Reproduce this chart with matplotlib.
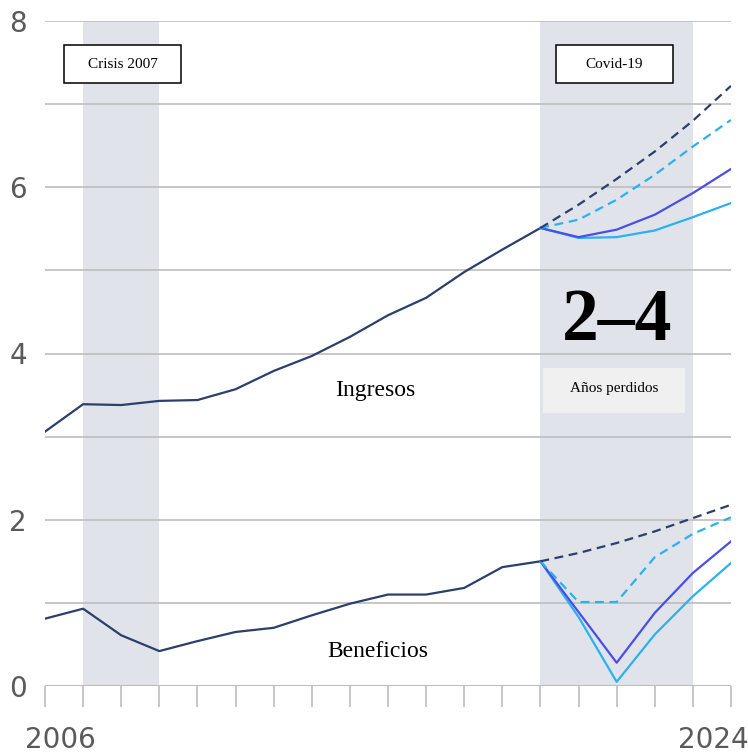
import numpy as np
import matplotlib.pyplot as plt
from matplotlib.patches import Rectangle

years_hist = np.arange(2006, 2020)
years_proj = np.arange(2019, 2025)

ingresos = [3.06, 3.39, 3.38, 3.43, 3.44, 3.57, 3.79, 3.97, 4.20, 4.46, 4.67, 4.98, 5.25, 5.51]
beneficios = [0.81, 0.93, 0.61, 0.42, 0.54, 0.65, 0.70, 0.85, 0.99, 1.10, 1.10, 1.18, 1.43, 1.50]

# Covid-19 scenarios, 2019-2024
ing_trend = [5.51, 5.79, 6.10, 6.43, 6.80, 7.22]
ing_fast = [5.51, 5.61, 5.85, 6.15, 6.49, 6.81]
ing_mid = [5.51, 5.40, 5.49, 5.67, 5.93, 6.22]
ing_slow = [5.51, 5.39, 5.40, 5.48, 5.64, 5.81]

ben_trend = [1.50, 1.60, 1.72, 1.86, 2.02, 2.18]
ben_fast = [1.50, 1.01, 1.01, 1.55, 1.83, 2.03]
ben_mid = [1.50, 0.89, 0.28, 0.88, 1.36, 1.74]
ben_slow = [1.50, 0.83, 0.05, 0.62, 1.08, 1.48]

crisis_spans = [(2007, 2009), (2019, 2023)]
crisis_labels = ["Crisis 2007", "Covid-19"]

navy = "#2c3e6b"
purple = "#4b4ee6"
sky = "#2bb0f0"
shade = "#e0e4ea"
grid_c = "#bdbdbd"
label_c = "#5a5a5a"

fig = plt.figure(figsize=(7.48, 7.56), dpi=100)
ax = fig.add_axes([45 / 748, 70 / 756, 686 / 748, 665 / 756])

ax.set_xlim(2006, 2024)
ax.set_ylim(0, 8)

# Shaded periods
for x0, x1 in crisis_spans:
    ax.axvspan(x0, x1, color=shade, lw=0, zorder=0)

# Boxed labels for the two crises
box_left = [2006.5, 2019.4]
for bx, lab in zip(box_left, crisis_labels):
    ax.add_patch(Rectangle((bx, 7.25), 3.07, 0.46, fc="white", ec="black",
                           lw=1.1, zorder=5))
    ax.text(bx + 1.535, 7.48, lab, ha="center", va="center", fontsize=11,
            family="Liberation Serif", zorder=6)

# Gridlines
for yv in range(1, 9):
    ax.axhline(yv, color=grid_c, lw=1.2, zorder=1)
ax.axhline(0, color=grid_c, lw=1.5, zorder=1)

# Historical lines
ax.plot(years_hist, ingresos, color=navy, lw=1.6, zorder=3)
ax.plot(years_hist, beneficios, color=navy, lw=1.6, zorder=3)

# Scenarios
dash = (0, (4, 2.5))
for trend, fast, mid, slow in [(ing_trend, ing_fast, ing_mid, ing_slow),
                               (ben_trend, ben_fast, ben_mid, ben_slow)]:
    ax.plot(years_proj, slow, color=sky, lw=1.6, zorder=3)
    ax.plot(years_proj, mid, color=purple, lw=1.6, zorder=3)
    ax.plot(years_proj, fast, color=sky, lw=1.6, ls=dash, zorder=3)
    ax.plot(years_proj, trend, color=navy, lw=1.6, ls=dash, zorder=3)

# Annotations
ax.text(2014.66, 3.56, "Ingresos", ha="center", va="center", fontsize=17,
        family="Liberation Serif")
ax.text(2014.74, 0.42, "Beneficios", ha="center", va="center", fontsize=17,
        family="Liberation Serif")
ax.text(2021.0, 4.38, "2\u20134", ha="center", va="center", fontsize=53,
        fontweight="bold", family="Liberation Serif")
ax.add_patch(Rectangle((2019.07, 3.29), 3.73, 0.53, fc="#f0f0f0", ec="none", zorder=2))
ax.text(2020.93, 3.58, "A\u00f1os perdidos", ha="center", va="center", fontsize=11,
        family="Liberation Serif", zorder=3)

# Axes styling
for s in ax.spines.values():
    s.set_visible(False)
ax.set_yticks(range(0, 9, 2))
ax.set_yticklabels([str(v) for v in range(0, 9, 2)], fontsize=20, color=label_c)
ax.tick_params(axis="y", length=0, pad=13)

ax.set_xticks(np.arange(2006, 2025))
ax.set_xticklabels([])
ax.tick_params(axis="x", direction="out", length=15, width=1.2, color=grid_c)
ax.text(2006.41, -0.65, "2006", ha="center", va="center", fontsize=20, color=label_c,
        clip_on=False)
ax.text(2023.53, -0.65, "2024", ha="center", va="center", fontsize=20, color=label_c,
        clip_on=False)

fig.savefig("out.png", dpi=100)
